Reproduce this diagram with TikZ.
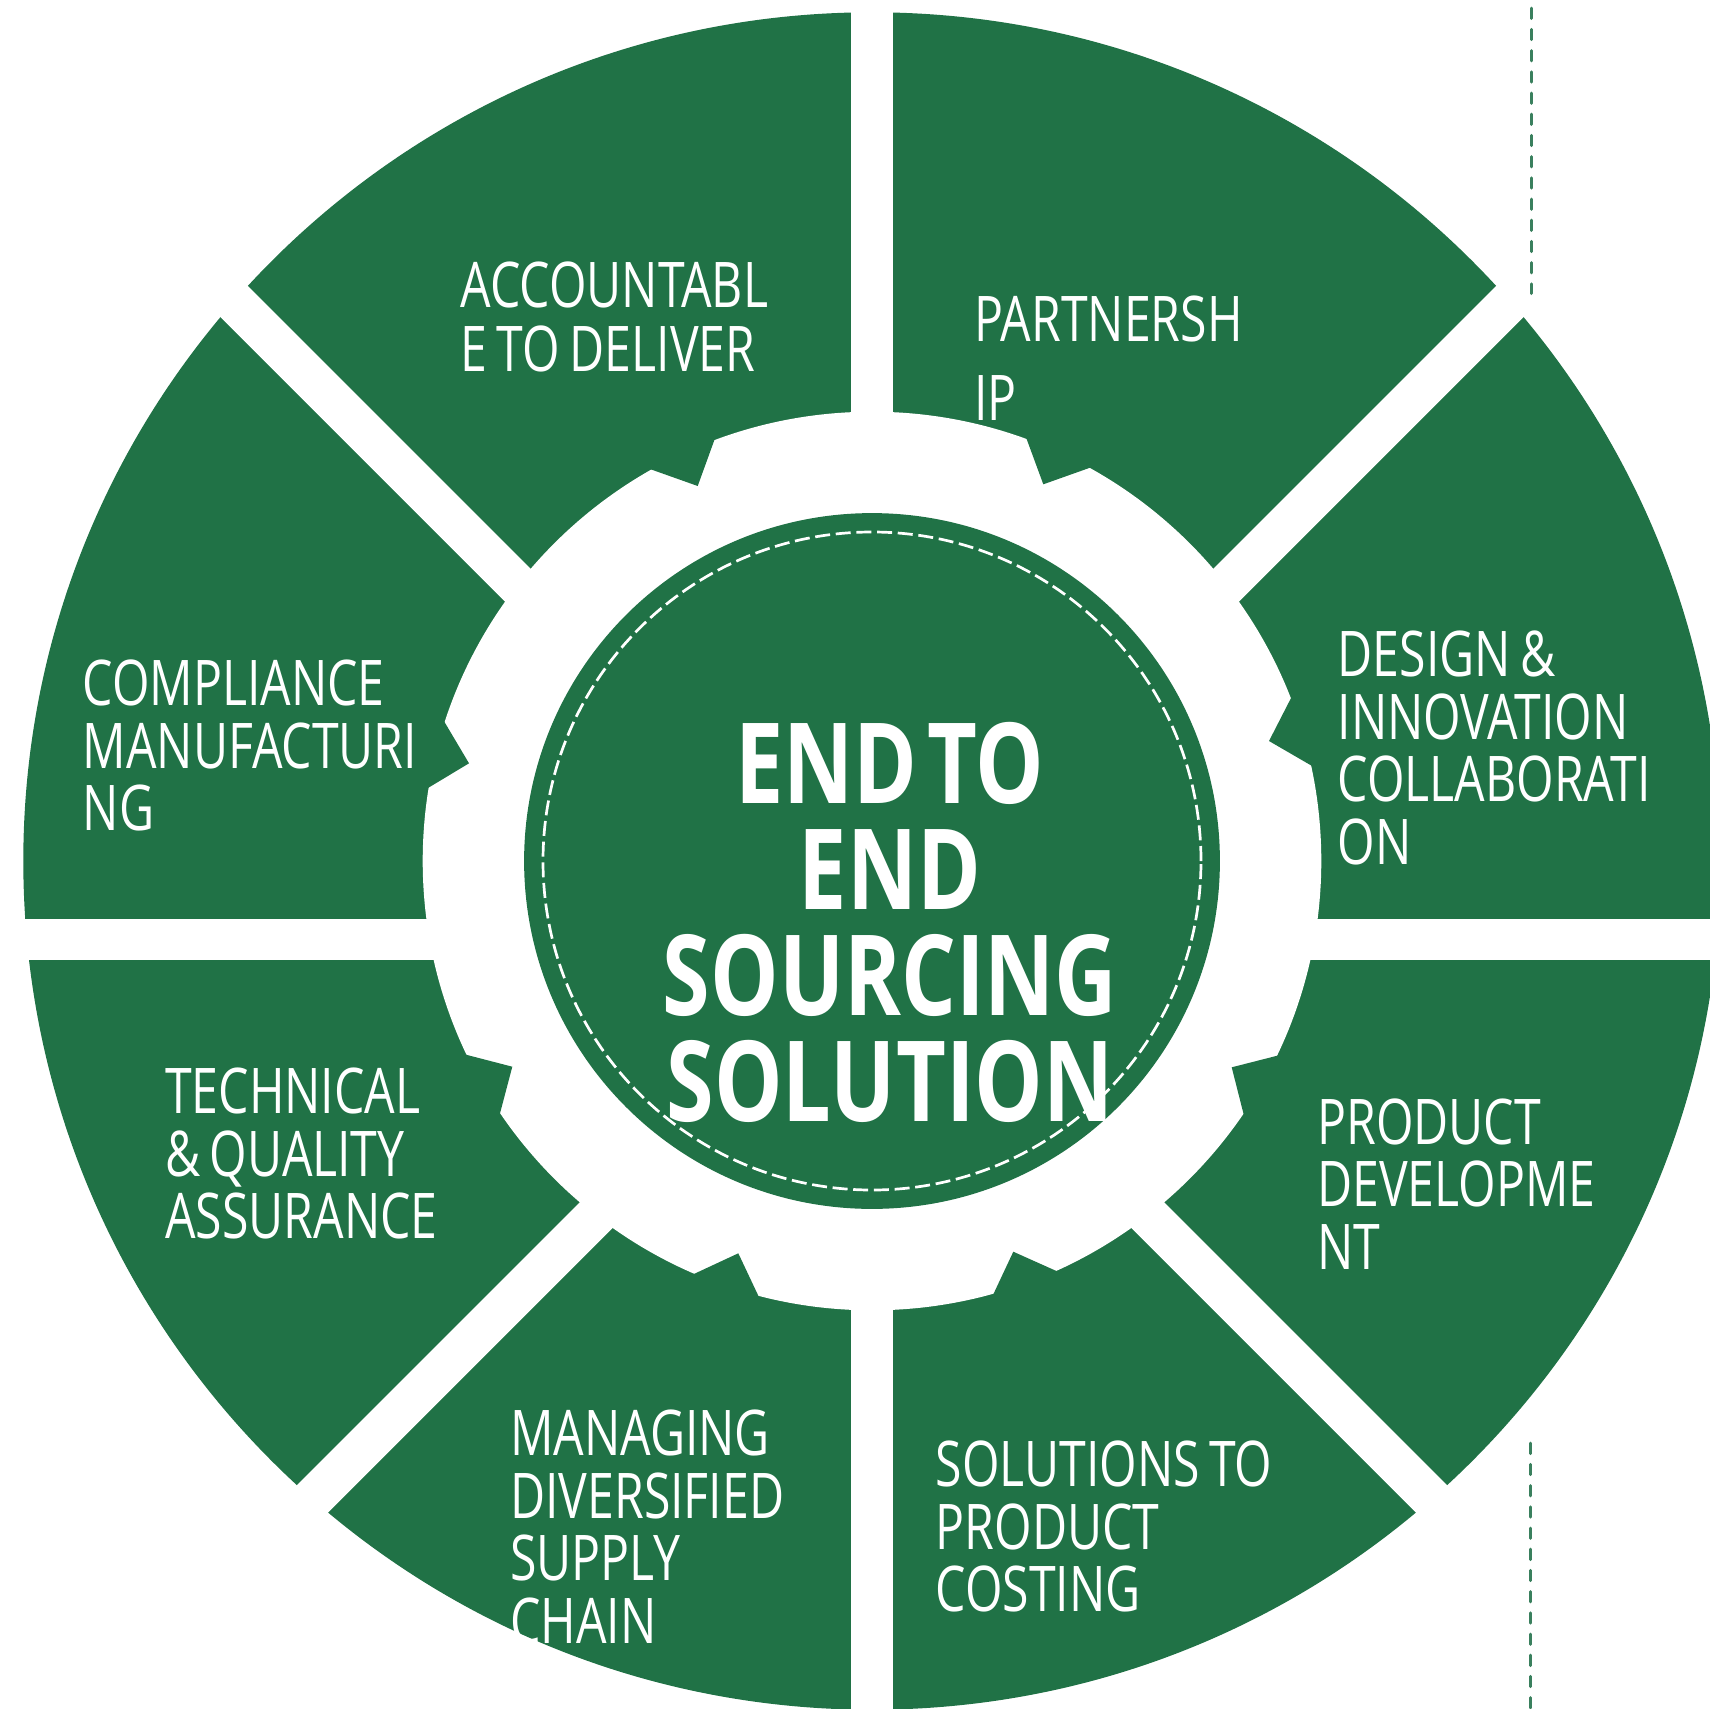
\documentclass[tikz,border=0pt]{standalone}
\usepackage{fontspec}
\usetikzlibrary{calc}
\newfontfamily\lblfont[FakeStretch=0.765]{Open Sans}
\newfontfamily\ctrfont[FakeStretch=0.77]{Open Sans}
\newcommand\lblspacing{\spaceskip=0.15em\relax}
\newcommand\ctrspacing{\spaceskip=0.09em\relax}
\definecolor{ringgreen}{RGB}{32,114,70}
\definecolor{dashgreen}{RGB}{58,128,94}
\begin{document}
\begin{tikzpicture}[x=1pt,y=-1pt,
  lbl/.style={text=white, font={\lblfont\fontsize{63}{62.5}\selectfont\lblspacing}, align=left, inner sep=0pt, anchor=north west},
  ctr/.style={text=white, font={\ctrfont\bfseries\fontsize{112}{106}\selectfont\ctrspacing}, align=center, inner sep=0pt, anchor=north},
  gapband/.style={draw=white, line width=41.3pt},
  notchfill/.style={fill=ringgreen},
  sidedash/.style={draw=dashgreen, line width=3pt, line cap=round, dash pattern=on 10.3pt off 10.9pt}
]
\useasboundingbox (0,0) rectangle (1710,1708);
\clip (0,0) rectangle (1710,1708);
\coordinate (C) at (872,861);
\coordinate (G) at (872,939.3);
% outer ring
\fill[ringgreen] (C) circle[radius=848.7pt];
\fill[white] (C) circle[radius=449.3pt];
% notches of the gear
\foreach \ax/\ay/\ix/\iy/\bx/\by in {
  715/438.3/697.7/486/650.7/469.3,
  1026/437.3/1043.3/484.3/1090/467.7,
  1291.7/696.7/1269/741/1313.3/766.7,
  443.3/720/469/763.3/425.3/789.6,
  463.3/1054/512.3/1066.7/499.3/1116,
  691.7/1275/738.3/1253.3/760/1299.3,
  1280/1055/1231.7/1067.3/1244/1115.7,
  1059.3/1272.3/1013.3/1251.7/991.7/1297.7}
{
  \fill[notchfill] (\ax,\ay) -- (\ix,\iy) -- (\bx,\by) -- ($(C)!1.04!(\bx,\by)$) -- ($(C)!1.04!(\ax,\ay)$) -- cycle;
}
% separating gaps
\draw[gapband] ($(G)+(-1200,0)$) -- ($(G)+(1200,0)$);
\draw[gapband] ($(G)+(0,-1200)$) -- ($(G)+(0,1200)$);
\draw[gapband] ($(G)+(-1000,-1000)$) -- ($(G)+(1000,1000)$);
\draw[gapband] ($(G)+(-1000,1000)$) -- ($(G)+(1000,-1000)$);
% centre disc
\fill[ringgreen] (C) circle[radius=347.9pt];
\draw[white, line width=2.7pt, dash pattern=on 15pt off 5.7pt] (C) circle[radius=329pt];
% side dashed lines
\coordinate (t1) at (1531.5,8.2);
\coordinate (t2) at (1531.5,293.5);
\coordinate (b1) at (1530.7,1443.2);
\coordinate (b2) at (1530.7,1712);
\draw[sidedash] (t1) -- (t2);
\draw[sidedash] (b1) -- (b2);
% centre text
\node[ctr] (title) at (890,722) {END TO\\END\\SOURCING\\SOLUTION};
% labels
\node[lbl, font={\lblfont\fontsize{63}{63.3}\selectfont\lblspacing}] (acc) at (460.5,262) {ACCOUNTABL\\E TO DELIVER};
\node[lbl, font={\lblfont\fontsize{63}{79}\selectfont\lblspacing}] (par) at (974,296) {PARTNERSH\\IP};
\node[lbl] (com) at (82.5,660) {COMPLIANCE\\MANUFACTURI\\NG};
\node[lbl] (des) at (1337.5,630.7) {DESIGN \&\\INNOVATION\\COLLABORATI\\ON};
\node[lbl] (tec) at (165,1067.7) {TECHNICAL\\\& QUALITY\\ASSURANCE};
\node[lbl] (pro) at (1317,1098.2) {PRODUCT\\DEVELOPME\\NT};
\node[lbl] (man) at (510,1410.1) {MANAGING\\DIVERSIFIED\\SUPPLY\\CHAIN};
\node[lbl] (sol) at (935.5,1440.6) {SOLUTIONS TO\\PRODUCT\\COSTING};
\end{tikzpicture}
\end{document}
